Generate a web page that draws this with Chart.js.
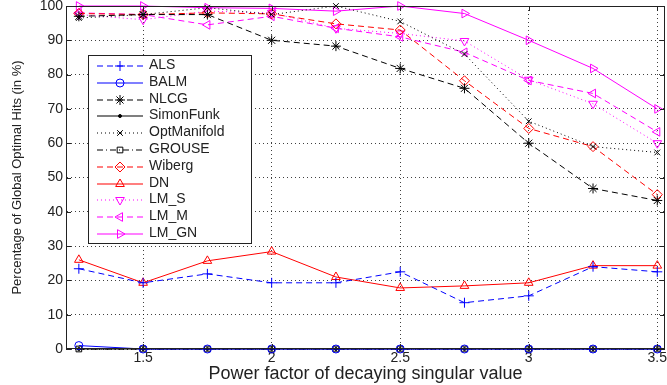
<!DOCTYPE html>
<html lang="en">
<head>
  <meta charset="UTF-8" />
  <title>Global optimal hits</title>
  <script src="https://cdn.jsdelivr.net/npm/chart.js"></script>
  <style>
    body { margin: 0; padding: 0; background: #fff; }
    .wrap { width: 667px; height: 385px; position: relative; }
  </style>
</head>
<body>
  <div class="wrap"><canvas id="chart"></canvas></div>

  <script>
    // power factor values
    const xValues = [1.25, 1.5, 1.75, 2, 2.25, 2.5, 2.75, 3, 3.25, 3.5];
    const xTicks = [1.5, 2, 2.5, 3, 3.5];
    const yTicks = [0, 10, 20, 30, 40, 50, 60, 70, 80, 90, 100];

    const als         = [23.4, 19.3, 21.9, 19.3, 19.3, 22.5, 13.5, 15.5, 24, 22.5];
    const balm        = [1, 0, 0, 0, 0, 0, 0, 0, 0, 0];
    const nlcg        = [97, 97.5, 97.5, 90, 88.3, 81.8, 76, 60, 46.8, 43.3];
    const simonFunk   = [0, 0, 0, 0, 0, 0, 0, 0, 0, 0];
    const optManifold = [96.5, 97.5, 99.5, 97.5, 100, 95.5, 86, 66.4, 59, 57.3];
    const grouse      = [0, 0, 0, 0, 0, 0, 0, 0, 0, 0];
    const wiberg      = [97.8, 97.5, 98, 97.7, 94.8, 93, 78.2, 64.3, 59, 45];
    const dn          = [26, 19.3, 25.7, 28.4, 21, 17.8, 18.4, 19.3, 24.3, 24.3];
    const lmS         = [97.5, 96, 98.5, 98, 93.5, 92, 89.8, 78.5, 71.5, 60];
    const lmM         = [98, 97.5, 94.5, 97, 93.5, 91, 86.5, 78.3, 74.5, 63.3];
    const lmGN        = [100, 100, 99.5, 99.3, 98.5, 100, 97.8, 90, 81.8, 70];

    const DASH = [6, 4], DOT = [1, 3], DASHDOT = [6, 3, 1, 3];
    const BLUE = '#0000ff', BLACK = '#000000', RED = '#ff0000', MAG = '#ff00ff';
    const NONE = 'rgba(0,0,0,0)';

    const styles = []; // kept for drawing the legend

    function series(label, values, color, dash, style, radius, rotation, fill) {
      styles.push({ label, color, dash, style, radius, rotation: rotation || 0, fill: fill || NONE });
      return {
        label,
        data: values.map((v, i) => ({ x: xValues[i], y: v })),
        borderColor: color,
        backgroundColor: fill || NONE,
        borderWidth: 1,
        borderDash: dash,
        pointStyle: style,
        pointRadius: radius,
        pointRotation: rotation || 0,
        pointBorderColor: color,
        pointBackgroundColor: fill || NONE,
        pointBorderWidth: 1,
        tension: 0,
        clip: false
      };
    }

    const datasets = [
      series('ALS', als, BLUE, DASH, 'cross', 5),
      series('BALM', balm, BLUE, [], 'circle', 4),
      series('NLCG', nlcg, BLACK, DASH, 'star', 5),
      series('SimonFunk', simonFunk, BLACK, [], 'circle', 1.5, 0, BLACK),
      series('OptManifold', optManifold, BLACK, DOT, 'crossRot', 4),
      series('GROUSE', grouse, BLACK, DASHDOT, 'rect', 4),
      series('Wiberg', wiberg, RED, DASH, 'rectRot', 5),
      series('DN', dn, RED, [], 'triangle', 5),
      series('LM_S', lmS, MAG, DOT, 'triangle', 5, 180),
      series('LM_M', lmM, MAG, DASH, 'triangle', 5, 270),
      series('LM_GN', lmGN, MAG, [], 'triangle', 5, 90)
    ];

    // box around the plot plus inward tick marks, MATLAB style
    const framePlugin = {
      id: 'frame',
      afterDatasetsDraw(chart) {
        const { ctx, chartArea: a, scales } = chart;
        ctx.save();
        ctx.strokeStyle = '#222';
        ctx.lineWidth = 1;
        ctx.setLineDash([]);
        ctx.strokeRect(a.left + 0.5, a.top + 0.5, a.right - a.left - 1, a.bottom - a.top - 1);
        ctx.beginPath();
        yTicks.forEach(t => {
          const y = Math.round(scales.y.getPixelForValue(t)) + 0.5;
          ctx.moveTo(a.left, y); ctx.lineTo(a.left + 5, y);
          ctx.moveTo(a.right, y); ctx.lineTo(a.right - 5, y);
        });
        xTicks.forEach(t => {
          const x = Math.round(scales.x.getPixelForValue(t)) + 0.5;
          ctx.moveTo(x, a.bottom); ctx.lineTo(x, a.bottom - 5);
          ctx.moveTo(x, a.top); ctx.lineTo(x, a.top + 5);
        });
        ctx.stroke();
        ctx.restore();
      }
    };

    // dashed sample line made of small rectangles
    function sampleLine(ctx, x0, x1, y, dash, color) {
      ctx.fillStyle = color;
      if (!dash.length) { ctx.fillRect(x0, y, x1 - x0, 1); return; }
      let x = x0, k = 0;
      while (x < x1) {
        const len = dash[k % dash.length];
        if (k % 2 === 0) ctx.fillRect(x, y, Math.min(len, x1 - x), 1);
        x += len;
        k++;
      }
    }

    // legend box inside the plot
    const legendPlugin = {
      id: 'innerLegend',
      afterDraw(chart) {
        const ctx = chart.ctx;
        const bx = 88, by = 55, bw = 163, bh = 188;
        ctx.save();
        ctx.fillStyle = '#fff';
        ctx.fillRect(bx, by, bw, bh);
        ctx.strokeStyle = '#222';
        ctx.lineWidth = 1;
        ctx.setLineDash([]);
        ctx.strokeRect(bx + 0.5, by + 0.5, bw, bh);
        ctx.font = '14px "Liberation Sans", Arial, sans-serif';
        ctx.textBaseline = 'middle';
        styles.forEach((s, i) => {
          const y = Math.round(by + 10 + i * 16.8);
          sampleLine(ctx, bx + 9, bx + 55, y + 0.5, s.dash, s.color);
          ctx.lineWidth = 1;
          ctx.setLineDash([]);
          ctx.strokeStyle = s.color;
          ctx.fillStyle = s.fill;
          if (Chart.helpers && Chart.helpers.drawPoint) {
            Chart.helpers.drawPoint(ctx, {
              pointStyle: s.style,
              radius: s.radius,
              rotation: s.rotation,
              borderWidth: 1
            }, bx + 32, y + 1);
          }
          ctx.fillStyle = '#222';
          ctx.fillText(s.label, bx + 61, y + 0.5);
        });
        ctx.restore();
      }
    };

    const family = '"Liberation Sans", Arial, sans-serif';
    const tickFont = { family, size: 14 };
    const gridColor = 'rgba(0,0,0,0.75)';

    new Chart(document.getElementById('chart'), {
      type: 'line',
      data: { datasets },
      options: {
        responsive: true,
        maintainAspectRatio: false,
        animation: false,
        layout: { autoPadding: false, padding: { top: 6, right: 2, left: 0, bottom: 0 } },
        plugins: {
          legend: { display: false },
          tooltip: { enabled: false }
        },
        scales: {
          x: {
            type: 'linear',
            min: 1.2,
            max: 3.53,
            afterBuildTicks: s => { s.ticks = xTicks.map(v => ({ value: v })); },
            afterFit: s => { s.height = 36; s.paddingLeft = 0; s.paddingRight = 0; },
            ticks: { color: '#222', font: tickFont, padding: 1, maxRotation: 0, callback: v => String(v) },
            grid: { color: gridColor, drawTicks: false },
            border: { display: true, color: NONE, dash: DOT },
            title: {
              display: true,
              text: 'Power factor of decaying singular value',
              color: '#222',
              font: { family, size: 18 },
              padding: { top: 1, bottom: 0 }
            }
          },
          y: {
            min: 0,
            max: 100,
            afterBuildTicks: s => { s.ticks = yTicks.map(v => ({ value: v })); },
            afterFit: s => { s.width = 66; s.paddingTop = 0; s.paddingBottom = 0; },
            ticks: { color: '#222', font: tickFont, padding: 3, callback: v => String(v) },
            grid: { color: gridColor, drawTicks: false },
            border: { display: true, color: NONE, dash: DOT },
            title: {
              display: true,
              text: 'Percentage of Global Optimal Hits (in %)',
              color: '#222',
              font: { family, size: 13 },
              padding: { top: 10, bottom: 0 }
            }
          }
        }
      },
      plugins: [framePlugin, legendPlugin]
    });
  </script>
</body>
</html>
